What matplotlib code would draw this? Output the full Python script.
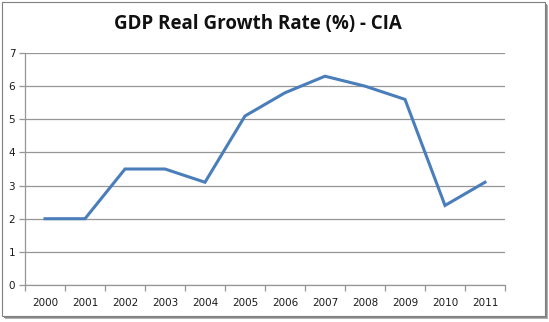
import numpy as np
import matplotlib.pyplot as plt
from matplotlib.patches import Rectangle

years = ['2000', '2001', '2002', '2003', '2004', '2005',
         '2006', '2007', '2008', '2009', '2010', '2011']
growth = [2.0, 2.0, 3.5, 3.5, 3.1, 5.1, 5.8, 6.3, 6.0, 5.6, 2.4, 3.1]

W, H = 549, 322
fig = plt.figure(figsize=(W / 100, H / 100), dpi=100)
fig.patch.set_facecolor('white')

# chart frame with a drop shadow
for off, col in [(3, '#b0b0b0'), (2, '#8a8a8a')]:
    fig.add_artist(Rectangle(((2 + off) / W, 1 - (316 + off) / H), 543 / W, 314 / H,
                             transform=fig.transFigure, facecolor=col,
                             edgecolor='none', zorder=-3))
fig.add_artist(Rectangle((2 / W, 1 - 316 / H), 543 / W, 314 / H,
                         transform=fig.transFigure, facecolor='white',
                         edgecolor='#7f7f7f', lw=0.8, zorder=-2))

left, right, top, bottom = 25, 505, 53, 285
ax = fig.add_axes([left / W, 1 - bottom / H, (right - left) / W, (bottom - top) / H])
ax.set_facecolor('none')

x = np.arange(len(years))
ax.plot(x, growth, color='#4a7ebb', lw=2.2, solid_joinstyle='miter', zorder=3)

ax.set_xlim(-0.5, len(years) - 0.5)
ax.set_ylim(0, 7)
ax.set_yticks(range(0, 8))
ax.yaxis.grid(True, color='#969696', lw=0.9)
ax.set_axisbelow(True)

ax.set_xticks(x)
ax.set_xticklabels(years)
ax.set_xticks(np.arange(-0.5, len(years)), minor=True)
ax.tick_params(axis='x', which='major', length=0, pad=9)
ax.tick_params(axis='x', which='minor', length=4, color='#969696', width=0.9)
ax.tick_params(axis='y', length=4, color='#969696', width=0.9, pad=3)
ax.tick_params(labelsize=7.5, labelcolor='#1a1a1a')

for s in ['top', 'right']:
    ax.spines[s].set_visible(False)
for s in ['left', 'bottom']:
    ax.spines[s].set_color('#969696')
    ax.spines[s].set_linewidth(0.9)

fig.text(258 / W, 1 - 24 / H, 'GDP Real Growth Rate (%) - CIA', ha='center', va='center',
         fontsize=13.5, fontweight='bold', family='Open Sans', color='#111111')

fig.savefig('out.png', dpi=100)
